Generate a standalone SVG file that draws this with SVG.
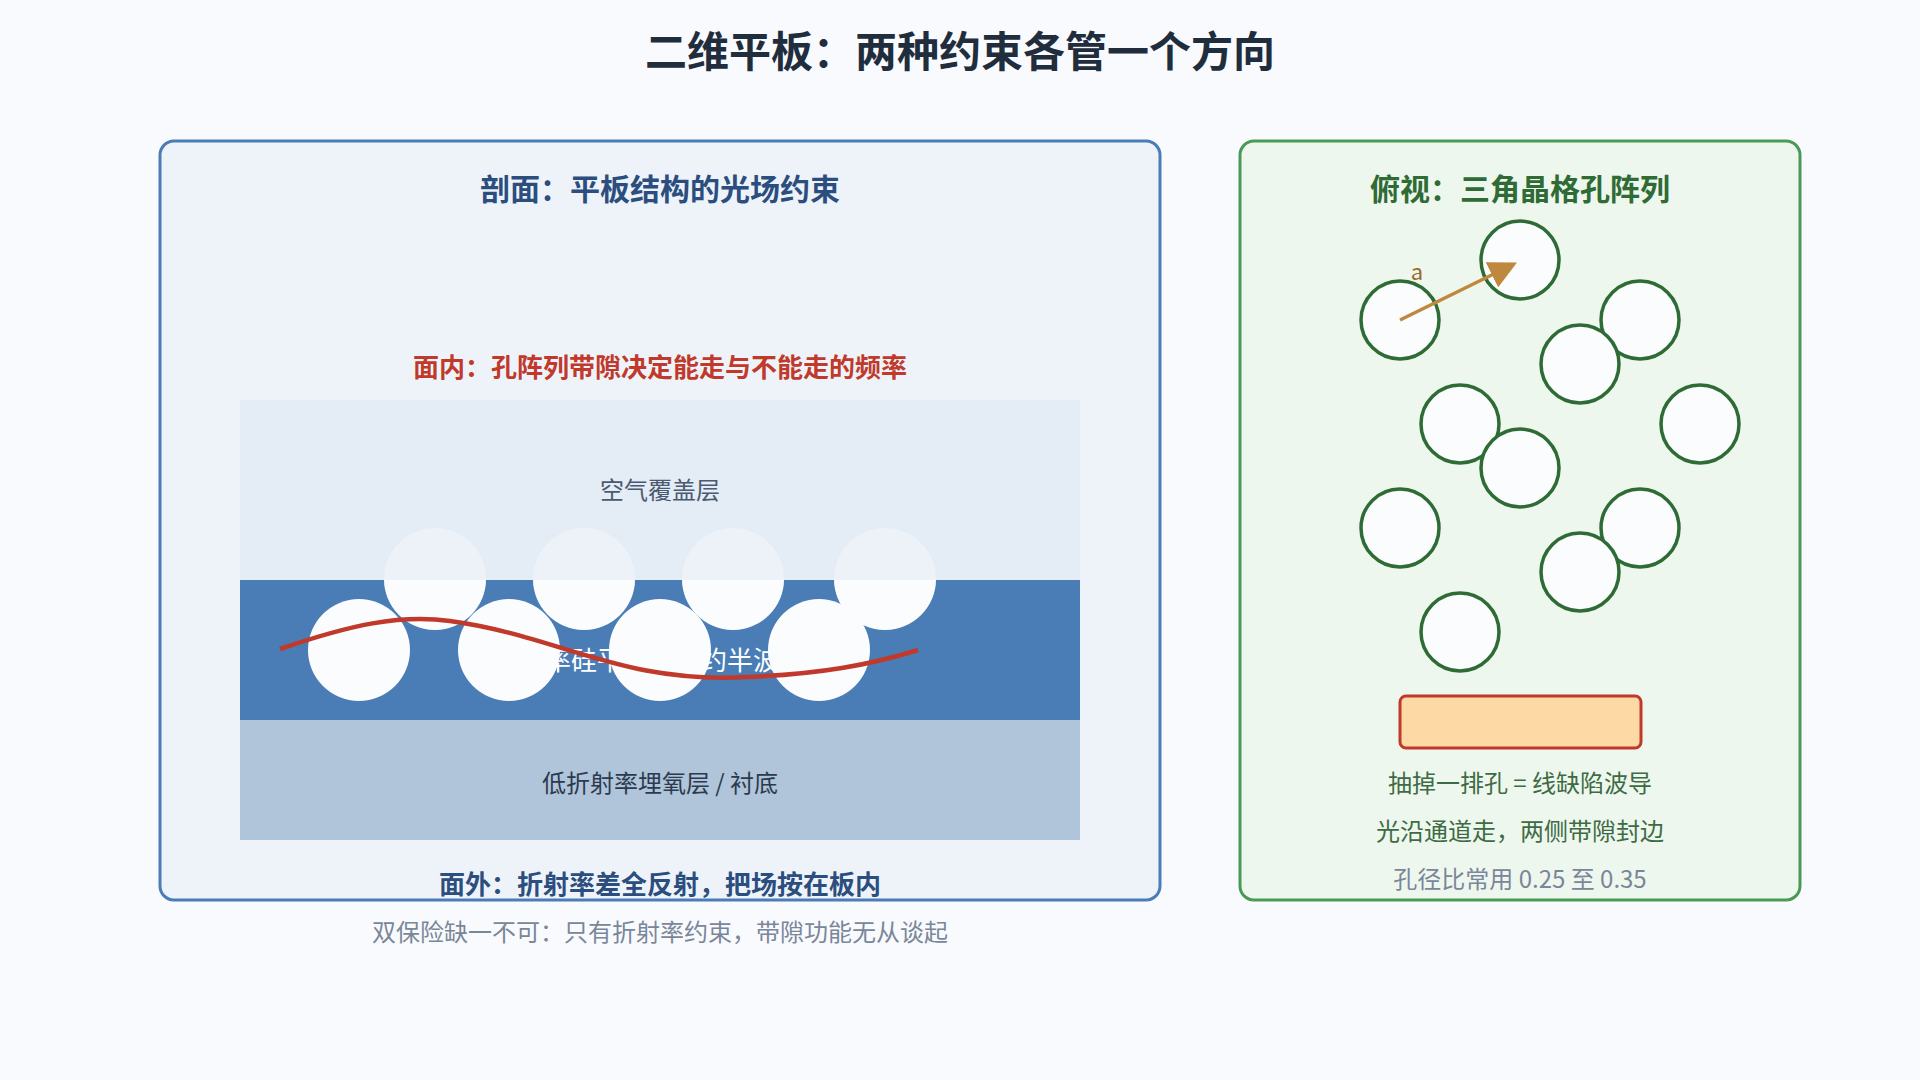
<svg xmlns="http://www.w3.org/2000/svg" width="1920" height="1080" viewBox="0 0 1920 1080">
<style>
text{font-family:"Noto Sans CJK SC","Noto Sans",sans-serif;text-anchor:middle}
.hole{fill:#fafcfe;stroke:#2e6b35;stroke-width:3.5}
</style>
<defs>
<clipPath id="slabclip"><rect x="240" y="580" width="840" height="140"/></clipPath>
<marker id="ah" viewBox="0 0 10 10" refX="8" refY="5" markerWidth="8" markerHeight="8" orient="auto"><path d="M0,0L10,5L0,10z" fill="#c0883e"/></marker>
</defs>
<rect width="1920" height="1080" fill="#f8fafd"/>
<text x="960" y="67" font-size="42" font-weight="bold" fill="#1f2d3d">二维平板：两种约束各管一个方向</text>
<g id="left-panel">
<rect x="160" y="141" width="1000" height="759" rx="14" fill="#eef3fa" stroke="#4a7db5" stroke-width="3"/>
<text x="660" y="200" font-size="30" font-weight="bold" fill="#2b4e7e">剖面：平板结构的光场约束</text>
<text x="660" y="377" font-size="26" font-weight="bold" fill="#c0392b">面内：孔阵列带隙决定能走与不能走的频率</text>
<rect x="240" y="400" width="840" height="180" fill="#e4ecf5"/>
<rect x="240" y="580" width="840" height="140" fill="#4a7db5"/>
<rect x="240" y="720" width="840" height="120" fill="#b0c4da"/>
<text x="660" y="499" font-size="24" fill="#4a5a70">空气覆盖层</text>
<text x="636" y="670" font-size="26" fill="#ffffff">高折射率硅平板厚度约半波长</text>
<text x="660" y="792" font-size="24" fill="#2b3a4e">低折射率埋氧层 / 衬底</text>
<g fill="#ffffff" fill-opacity="0.35">
<circle cx="435" cy="579" r="51"/><circle cx="584" cy="579" r="51"/><circle cx="733" cy="579" r="51"/><circle cx="885" cy="579" r="51"/>
</g>
<g fill="#fafcfe" clip-path="url(#slabclip)">
<circle cx="435" cy="579" r="51"/><circle cx="584" cy="579" r="51"/><circle cx="733" cy="579" r="51"/><circle cx="885" cy="579" r="51"/>
</g>
<g fill="#fafcfe">
<circle cx="359" cy="650" r="51"/><circle cx="509" cy="650" r="51"/><circle cx="660" cy="650" r="51"/><circle cx="819" cy="650" r="51"/>
</g>
<path d="M280,649 C350,625 400,614 450,621 C560,636 620,684 747,677 C820,674 870,665 918,650" fill="none" stroke="#c0392b" stroke-width="4.5"/>
<text x="660" y="894" font-size="26" font-weight="bold" fill="#2b4e7e">面外：折射率差全反射，把场按在板内</text>
</g>
<text x="660" y="941" font-size="24" fill="#7a8699">双保险缺一不可：只有折射率约束，带隙功能无从谈起</text>
<g id="right-panel">
<rect x="1240" y="141" width="560" height="759" rx="14" fill="#eef7ee" stroke="#4a9a55" stroke-width="3"/>
<text x="1520" y="200" font-size="30" font-weight="bold" fill="#2e6b35">俯视：三角晶格孔阵列</text>
<circle class="hole" cx="1400" cy="320" r="39"/>
<circle class="hole" cx="1520" cy="260" r="39"/>
<circle class="hole" cx="1640" cy="320" r="39"/>
<circle class="hole" cx="1580" cy="364" r="39"/>
<circle class="hole" cx="1460" cy="424" r="39"/>
<circle class="hole" cx="1700" cy="424" r="39"/>
<circle class="hole" cx="1520" cy="468" r="39"/>
<circle class="hole" cx="1400" cy="528" r="39"/>
<circle class="hole" cx="1640" cy="528" r="39"/>
<circle class="hole" cx="1580" cy="572" r="39"/>
<circle class="hole" cx="1460" cy="632" r="39"/>
<line x1="1400" y1="320" x2="1512" y2="265" stroke="#c0883e" stroke-width="3.5" marker-end="url(#ah)"/>
<text x="1417" y="280" font-size="22" fill="#9a6a2a">a</text>
<rect x="1400" y="696" width="241" height="52" rx="6" fill="#fdd9a6" stroke="#c0392b" stroke-width="3"/>
<text x="1520" y="792" font-size="24" fill="#3d6b44">抽掉一排孔 = 线缺陷波导</text>
<text x="1520" y="840" font-size="24" fill="#3d6b44">光沿通道走，两侧带隙封边</text>
<text x="1520" y="888" font-size="24" fill="#7a8699">孔径比常用 0.25 至 0.35</text>
</g>
</svg>
